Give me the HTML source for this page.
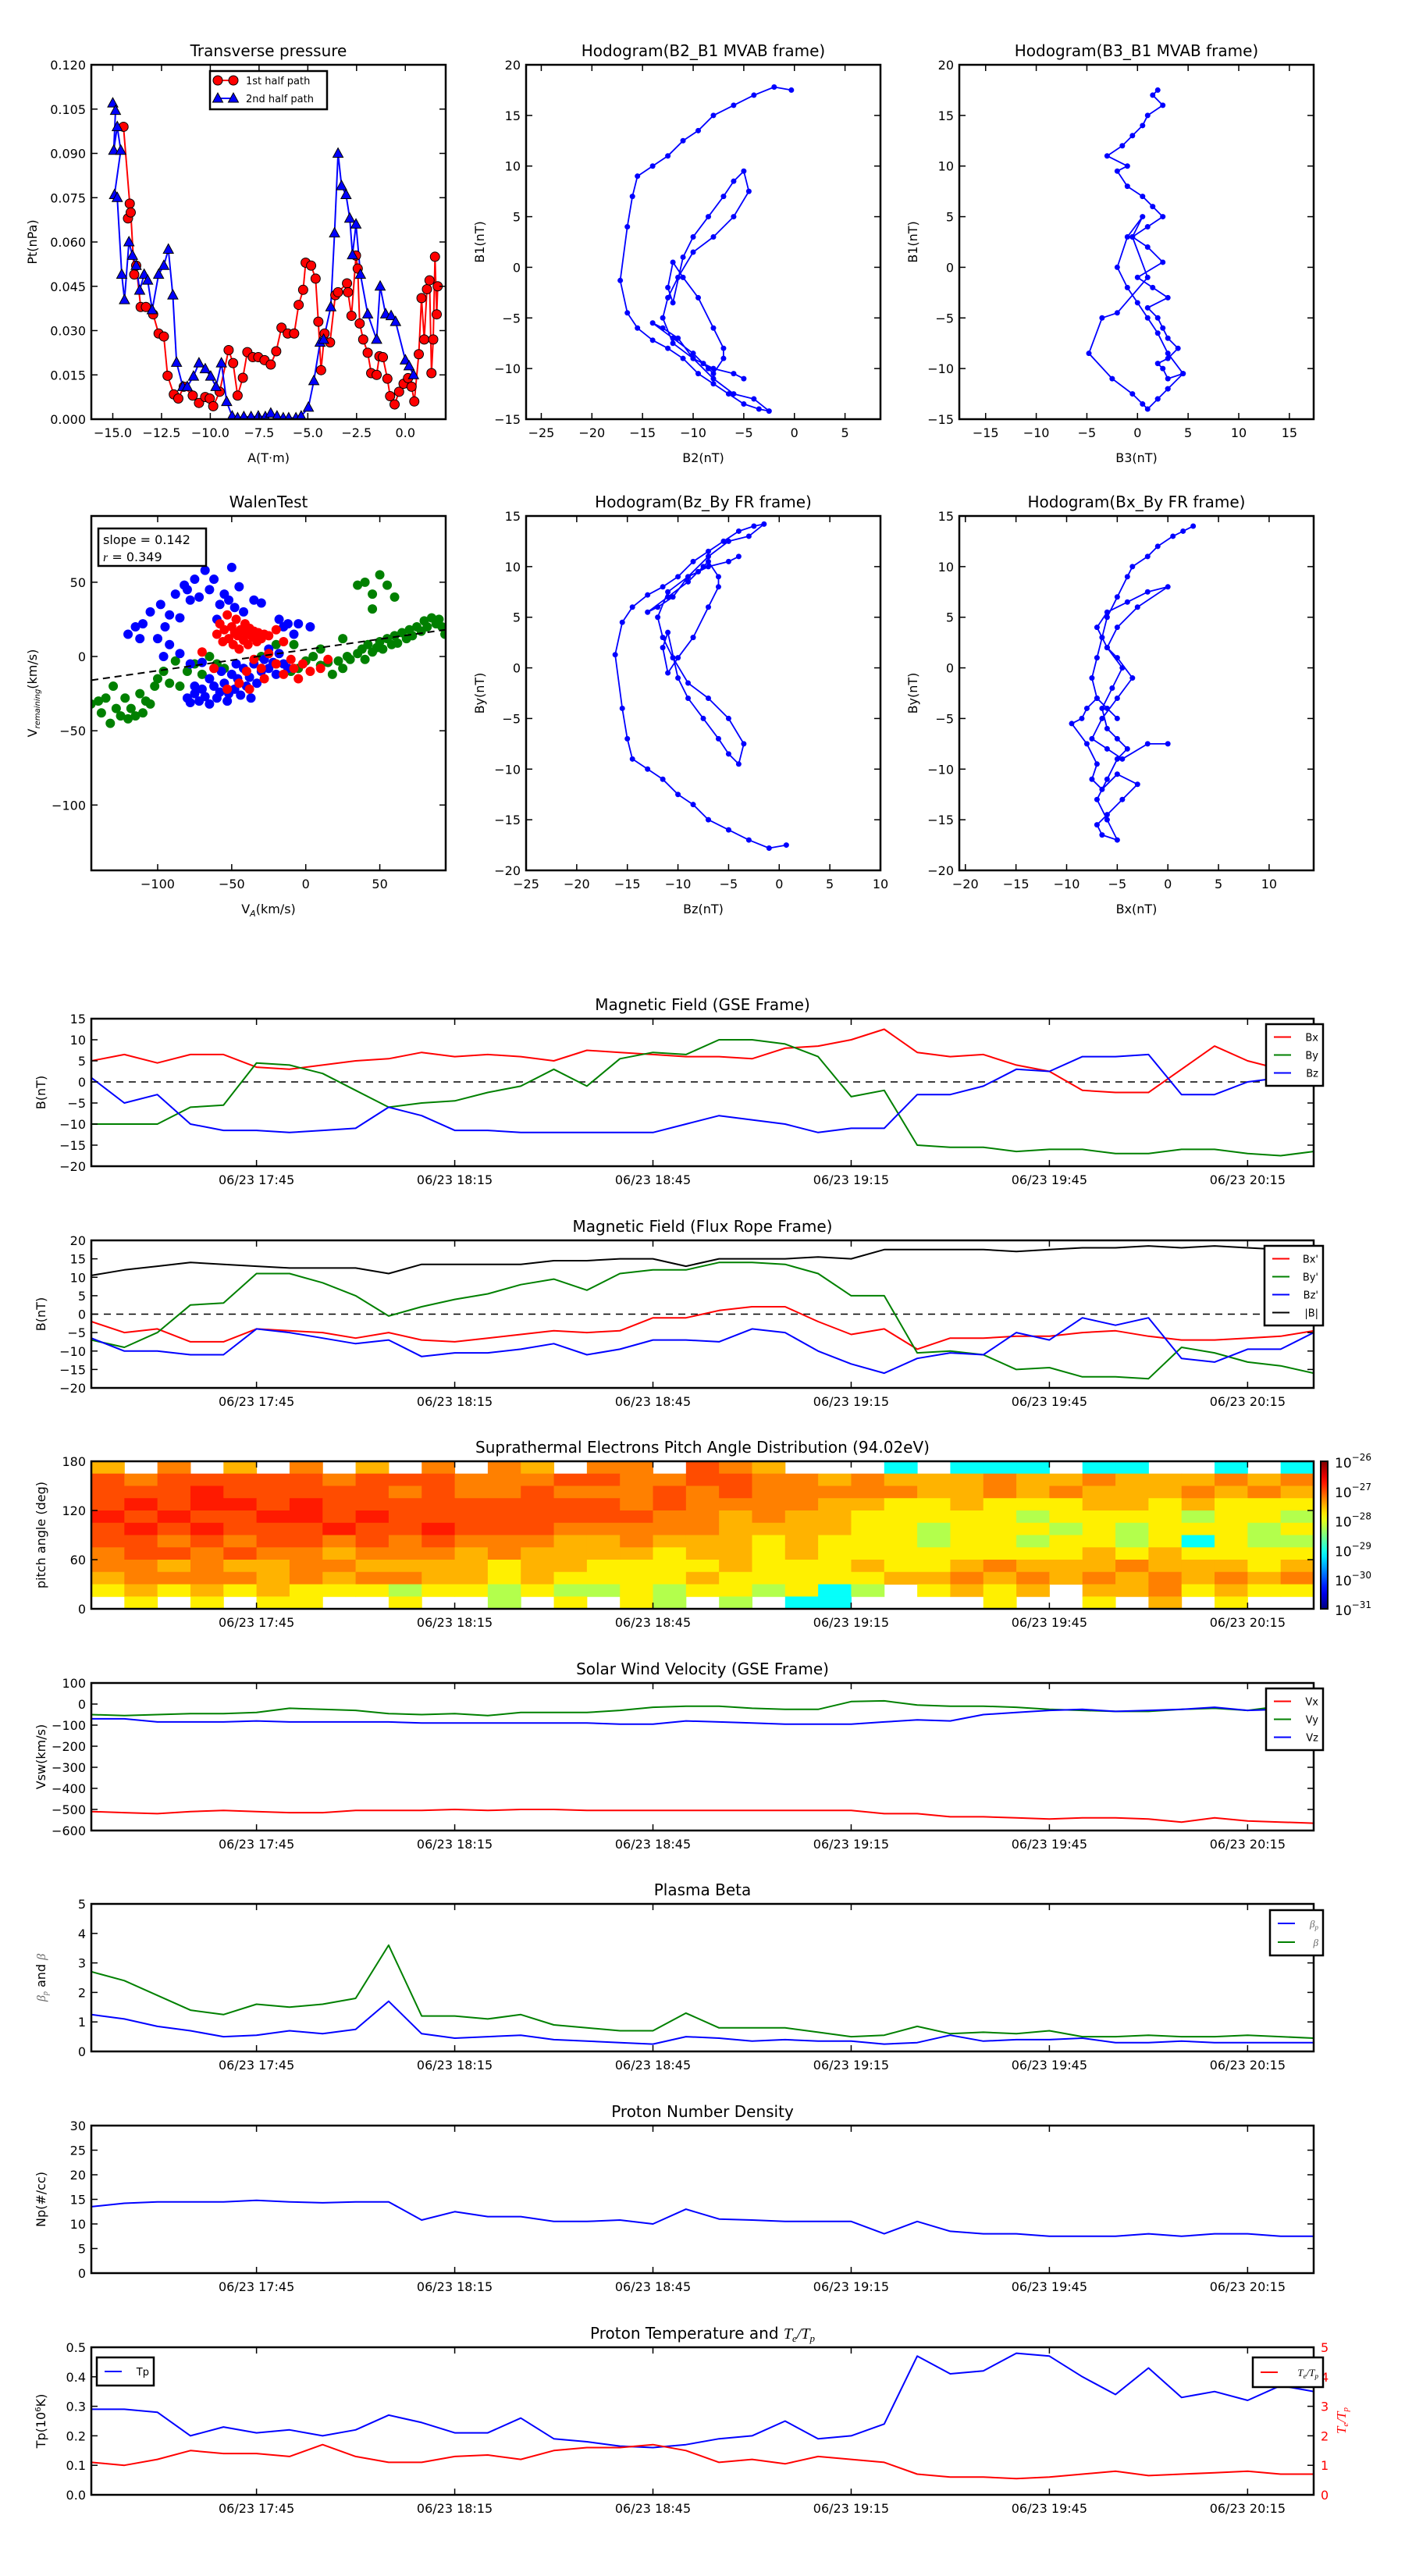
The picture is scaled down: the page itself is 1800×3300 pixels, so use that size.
<!DOCTYPE html>
<html><head><meta charset="utf-8">
<style>
html,body{margin:0;padding:0;background:#fff;}
svg{display:block;font-family:"DejaVu Sans","Liberation Sans",sans-serif;}
</style></head>
<body>
<svg id="fig" xmlns="http://www.w3.org/2000/svg" width="1800" height="3300" viewBox="0 0 1800 3300">
<rect x="0" y="0" width="1800" height="3300" fill="#fff"/>
<defs id="defs"></defs>
</svg>
<script>
// ---------- data ----------
const minutes = [0,5,10,15,20,25,30,35,40,45,50,55,60,65,70,75,80,85,90,95,100,105,110,115,120,125,130,135,140,145,150,155,160,165,170,175,180,185];
const timeTickMinutes = [25,55,85,115,145,175];
const timeTickLabels = ['06/23 17:45','06/23 18:15','06/23 18:45','06/23 19:15','06/23 19:45','06/23 20:15'];

const gseBx = [5,6.5,4.5,6.5,6.5,3.5,3,4,5,5.5,7,6,6.5,6,5,7.5,7,6.5,6,6,5.5,8,8.5,10,12.5,7,6,6.5,4,2.5,-2,-2.5,-2.5,3,8.5,5,3,2.5];
const gseBy = [-10,-10,-10,-6,-5.5,4.5,4,2,-2,-6,-5,-4.5,-2.5,-1,3,-1,5.5,7,6.5,10,10,9,6,-3.5,-2,-15,-15.5,-15.5,-16.5,-16,-16,-17,-17,-16,-16,-17,-17.5,-16.5];
const gseBz = [1,-5,-3,-10,-11.5,-11.5,-12,-11.5,-11,-6,-8,-11.5,-11.5,-12,-12,-12,-12,-12,-10,-8,-9,-10,-12,-11,-11,-3,-3,-1,3,2.5,6,6,6.5,-3,-3,0,1,5];

const frBx = [-2,-5,-4,-7.5,-7.5,-4,-4.5,-5,-6.5,-5,-7,-7.5,-6.5,-5.5,-4.5,-5,-4.5,-1,-1,1,2,2,-2,-5.5,-4,-9.5,-6.5,-6.5,-6,-6,-5,-4.5,-6,-7,-7,-6.5,-6,-4.5];
const frBy = [-7,-9,-5,2.5,3,11,11,8.5,5,-0.5,2,4,5.5,8,9.5,6.5,11,12,12,14,14,13.5,11,5,5,-10.5,-10,-11,-15,-14.5,-17,-17,-17.5,-9,-10.5,-13,-14,-16];
const frBz = [-6.5,-10,-10,-11,-11,-4,-5,-6.5,-8,-7,-11.5,-10.5,-10.5,-9.5,-8,-11,-9.5,-7,-7,-7.5,-4,-5,-10,-13.5,-16,-12,-10.5,-11,-5,-7,-1,-3,-1,-12,-13,-9.5,-9.5,-5];
const frBmag = [10.5,12,13,14,13.5,13,12.5,12.5,12.5,11,13.5,13.5,13.5,13.5,14.5,14.5,15,15,13,15,15,15,15.5,15,17.5,17.5,17.5,17.5,17,17.5,18,18,18.5,18,18.5,18,17.5,17.5];

const pitchRows = [
 "60706 07060 70760 77087 60003 03330 33003 03",
 "87888 88788 87778 87788 77676 66766 76667 67",
 "88898 88887 87787 77878 77777 66767 66676 76",
 "89899 89888 88888 87877 77665 56555 66565 55",
 "98988 99898 88888 88776 76655 55545 55545 54",
 "89898 88988 98887 77776 66655 45554 54555 45",
 "88787 88787 87776 67666 56555 45545 54535 44",
 "78878 77677 76766 66566 56555 55555 65655 55",
 "77676 67766 66566 55556 55565 56766 67666 56",
 "67777 67677 66565 55565 55556 67676 76767 67",
 "56565 65554 55454 45455 45340 56560 66756 55",
 "05050 55005 00405 05404 03300 00500 50605 00"
];
const pitchLevelValues = [null,null,null,-29.1,-28.25,-27.8,-27.5,-27.25,-27.0,-26.75];

const vx = [-510,-515,-520,-510,-505,-510,-515,-515,-505,-505,-505,-500,-505,-500,-500,-505,-505,-505,-505,-505,-505,-505,-505,-505,-520,-520,-535,-535,-540,-545,-540,-540,-545,-560,-540,-555,-560,-565];
const vy = [-50,-55,-50,-45,-45,-40,-20,-25,-30,-45,-50,-45,-55,-40,-40,-40,-30,-15,-10,-10,-20,-25,-25,12,15,-5,-10,-10,-15,-25,-30,-35,-35,-25,-20,-30,-10,-15];
const vz = [-70,-70,-85,-85,-85,-80,-85,-85,-85,-85,-90,-90,-90,-90,-90,-90,-95,-95,-80,-85,-90,-95,-95,-95,-85,-75,-80,-50,-40,-30,-25,-35,-30,-25,-15,-30,-25,-10];

const betaP = [1.25,1.1,0.85,0.7,0.5,0.55,0.7,0.6,0.75,1.7,0.6,0.45,0.5,0.55,0.4,0.35,0.3,0.25,0.5,0.45,0.35,0.4,0.35,0.35,0.25,0.3,0.55,0.35,0.4,0.4,0.45,0.3,0.3,0.35,0.3,0.3,0.3,0.3];
const betaTot = [2.7,2.4,1.9,1.4,1.25,1.6,1.5,1.6,1.8,3.6,1.2,1.2,1.1,1.25,0.9,0.8,0.7,0.7,1.3,0.8,0.8,0.8,0.65,0.5,0.55,0.85,0.6,0.65,0.6,0.7,0.5,0.5,0.55,0.5,0.5,0.55,0.5,0.45];

const density = [13.5,14.2,14.5,14.5,14.5,14.8,14.5,14.3,14.5,14.5,10.8,12.5,11.5,11.5,10.5,10.5,10.8,10,13,11,10.8,10.5,10.5,10.5,8,10.5,8.5,8,8,7.5,7.5,7.5,8,7.5,8,8,7.5,7.5];

const tempP = [0.29,0.29,0.28,0.2,0.23,0.21,0.22,0.2,0.22,0.27,0.245,0.21,0.21,0.26,0.19,0.18,0.165,0.16,0.17,0.19,0.2,0.25,0.19,0.2,0.24,0.47,0.41,0.42,0.48,0.47,0.4,0.34,0.43,0.33,0.35,0.32,0.37,0.35];
const teTp = [1.1,1.0,1.2,1.5,1.4,1.4,1.3,1.7,1.3,1.1,1.1,1.3,1.35,1.2,1.5,1.6,1.6,1.7,1.5,1.1,1.2,1.05,1.3,1.2,1.1,0.7,0.6,0.6,0.55,0.6,0.7,0.8,0.65,0.7,0.75,0.8,0.7,0.7];

// transverse pressure
const half1A = [-14.45,-14.13,-14.22,-14.08,-13.90,-13.80,-13.57,-13.30,-12.93,-12.65,-12.38,-12.19,-11.87,-11.64,-11.36,-10.90,-10.58,-10.26,-10.03,-9.85,-9.52,-9.06,-8.83,-8.60,-8.33,-8.10,-7.82,-7.54,-7.22,-6.90,-6.62,-6.35,-6.03,-5.70,-5.47,-5.24,-5.11,-4.83,-4.60,-4.46,-4.32,-4.14,-3.86,-3.59,-3.45,-2.99,-2.94,-2.76,-2.53,-2.44,-2.34,-2.16,-1.93,-1.75,-1.47,-1.33,-1.15,-0.92,-0.78,-0.55,-0.32,-0.09,0.14,0.32,0.46,0.69,0.83,0.97,1.11,1.24,1.34,1.43,1.52,1.61,1.66];
const half1Pt = [0.099,0.073,0.068,0.070,0.049,0.052,0.038,0.038,0.0355,0.029,0.028,0.0147,0.0084,0.007,0.011,0.008,0.0055,0.0075,0.007,0.0044,0.0093,0.0234,0.019,0.008,0.014,0.0227,0.021,0.021,0.020,0.0185,0.023,0.031,0.029,0.029,0.0387,0.0438,0.053,0.052,0.0476,0.033,0.0166,0.029,0.026,0.042,0.043,0.046,0.043,0.035,0.0554,0.051,0.0324,0.027,0.0225,0.0156,0.015,0.0213,0.021,0.0137,0.0078,0.005,0.0093,0.012,0.0139,0.011,0.006,0.022,0.041,0.027,0.044,0.047,0.0156,0.027,0.055,0.0355,0.045];
const half2A = [-15.0,-14.86,-14.95,-14.77,-14.59,-14.91,-14.77,-14.54,-14.40,-14.17,-13.99,-13.80,-13.62,-13.39,-13.21,-12.98,-12.65,-12.38,-12.15,-11.92,-11.73,-11.41,-11.18,-10.86,-10.58,-10.26,-9.98,-9.71,-9.43,-9.16,-8.88,-8.60,-8.28,-7.91,-7.54,-7.18,-6.90,-6.58,-6.26,-5.98,-5.61,-5.34,-4.97,-4.69,-4.37,-4.19,-3.82,-3.63,-3.45,-3.27,-3.04,-2.85,-2.71,-2.53,-2.30,-1.93,-1.47,-1.29,-1.01,-0.73,-0.50,0.00,0.19,0.42];
const half2Pt = [0.107,0.1045,0.091,0.099,0.091,0.076,0.075,0.049,0.0404,0.060,0.0554,0.052,0.0436,0.049,0.047,0.037,0.049,0.052,0.0575,0.042,0.0192,0.011,0.011,0.0145,0.019,0.017,0.0145,0.011,0.019,0.0059,0.001,0.0004,0.0008,0.0008,0.001,0.0008,0.002,0.001,0.0004,0.0004,0.0004,0.001,0.004,0.013,0.026,0.027,0.038,0.063,0.090,0.079,0.076,0.068,0.0556,0.066,0.049,0.0356,0.027,0.045,0.0356,0.035,0.033,0.020,0.018,0.015];

// hodograms
const mvabB2 = [-0.3,-2,-4,-6,-8,-9.5,-11,-12.5,-14,-15.5,-16,-16.5,-17.2,-16.5,-15.5,-14,-12.5,-11,-9.5,-8,-6.5,-5,-3.5,-2.5,-4,-6,-8,-10,-11.5,-13,-14,-12,-10,-9,-8.5,-8,-7,-7,-8,-9.5,-11,-12,-12.5,-12,-11,-10,-8.5,-7,-6,-5,-4.5,-6,-8,-10,-11.5,-12.5,-13,-12,-10,-8,-6,-5];
const mvabB1 = [17.5,17.8,17,16,15,13.5,12.5,11,10,9,7,4,-1.3,-4.5,-6,-7.2,-8,-9,-10.5,-11.5,-12.5,-13.5,-14,-14.2,-13,-12.5,-11,-9,-7,-6,-5.5,-7,-8.5,-9.5,-10,-10.5,-9,-8,-6,-3,-1,0.5,-2,-3.5,1,3,5,7,8.5,9.5,7.5,5,3,1.5,-1,-3,-5,-7.5,-9,-10,-10.5,-11];
const mvabB3 = [2,1.5,2.5,1,0.5,-0.5,-1.5,-3,-1,-2,-1,0.5,1.5,2.5,1,-0.5,1,2.5,0,1.5,3,1,2,2.5,3,4,3,2,2.5,3,4.5,3,2,4.5,3,2,1,0,-1,-2,-1,0.5,-0.5,1,-2,-3.5,-4.8,-2.5,-0.5,0.5,1,2,3];
const mvabB1b = [17.5,17,16,15,14,13,12,11,10,9.5,8,7,6,5,4,3,2,0.5,-1,-2,-3,-4,-5,-6,-7,-8,-9,-9.5,-10,-11,-10.5,-12,-13,-10.5,-8.5,-6.5,-5,-3.5,-2,0,3,5,3,-1,-4.5,-5,-8.5,-11,-12.5,-13.5,-14,-13,-12];
const frHodoBz = [0.7,-1,-3,-5,-7,-8.5,-10,-11.5,-13,-14.5,-15,-15.5,-16.2,-15.5,-14.5,-13,-11.5,-10,-8.5,-7,-5.5,-4,-2.5,-1.5,-3,-5,-7,-9,-10.5,-12,-13,-11,-9,-8,-7.5,-7,-6,-6,-7,-8.5,-10,-11,-11.5,-11,-10,-9,-7.5,-6,-5,-4,-3.5,-5,-7,-9,-10.5,-11.5,-12,-11,-9,-7,-5,-4];
const frHodoBy = [-17.5,-17.8,-17,-16,-15,-13.5,-12.5,-11,-10,-9,-7,-4,1.3,4.5,6,7.2,8,9,10.5,11.5,12.5,13.5,14,14.2,13,12.5,11,9,7,6,5.5,7,8.5,9.5,10,10.5,9,8,6,3,1,-0.5,2,3.5,-1,-3,-5,-7,-8.5,-9.5,-7.5,-5,-3,-1.5,1,3,5,7.5,9,10,10.5,11];
const frHodoBx = [2.5,1.5,0.5,-1,-2,-3.5,-4,-5,-6,-6.5,-7,-7.5,-7,-6,-5,-7,-8,-8.5,-9.5,-8,-7,-7.5,-6.5,-5,-3,-4.5,-6,-7,-6.5,-5,-6,-7,-6,-5,-4,-5,-6,-6.5,-5.5,-4.5,-6,-7,-6,-4,-2,0,-3,-5,-6,-5,-3.5,-5,-6.5,-7.5,-6,-4.5,-2,0];
const frHodoBy2 = [14,13.5,13,12,11,10,9,7,5,3,1,-1,-3,-4,-5,-3,-4,-5,-5.5,-7.5,-9.5,-11,-12,-10.5,-11.5,-13,-14.5,-15.5,-16.5,-17,-15,-13,-11,-9,-8,-7,-6,-4,-2,0,2,4,5.5,6.5,7.5,8,6,4,2,1,-1,-3,-5,-7,-8,-9,-7.5,-7.5];

// Walen test scatter
const walenBlueVA = [-120,-115,-110,-112,-105,-98,-95,-92,-88,-85,-82,-80,-78,-75,-72,-68,-65,-62,-58,-55,-52,-50,-48,-45,-42,-35,-30,-18,-12,-5,3,-8,-100,-92,-85,-78,-70,-25,-15,-60,-96,-80,-78,-75,-72,-70,-68,-65,-62,-60,-58,-55,-53,-50,-48,-46,-44,-42,-40,-38,-35,-33,-30,-28,-25,-22,-20,-18,-15,-12,-65,-57,-52,-47,-37,-75];
const walenBlueVR = [15,20,22,12,30,35,20,28,42,26,48,45,38,52,40,58,45,52,35,42,38,60,33,47,30,38,36,25,22,22,20,15,12,8,2,-5,-4,5,20,25,0,-28,-31,-25,-30,-22,-27,-32,-20,-28,-24,-18,-30,-12,-22,-15,-26,-8,-20,-14,-5,-18,-10,-2,-8,-4,-12,2,-5,-8,-15,-10,-25,-5,-28,-20];
const walenRedVA = [-60,-58,-56,-55,-53,-52,-50,-49,-48,-47,-46,-45,-44,-42,-41,-40,-39,-38,-36,-35,-33,-32,-30,-28,-25,-20,-15,-45,-40,-35,-30,-25,-20,-15,-10,-8,-5,-2,3,10,15,-70,-62,-53,-38,-28];
const walenRedVR = [15,22,10,18,28,12,20,8,16,25,14,5,18,11,22,15,8,19,13,17,10,16,12,15,14,18,10,-18,-10,-2,-8,2,-5,-12,-2,-8,-15,-5,-10,-8,-2,3,-8,-22,-22,-15];
const walenGreenVA = [-145,-140,-138,-135,-132,-130,-128,-125,-122,-120,-118,-115,-112,-110,-108,-105,-102,-100,-96,-92,-88,-85,-80,-75,-70,-65,-60,-55,-40,-30,-20,-10,-5,0,5,10,15,18,22,25,28,30,35,38,40,42,45,48,50,52,55,58,60,62,65,68,70,72,75,78,80,82,85,88,90,92,94,35,40,45,50,55,45,60,-20,10,-8,25];
const walenGreenVR = [-32,-30,-38,-28,-45,-20,-35,-40,-28,-42,-35,-40,-25,-38,-30,-32,-20,-15,-10,-18,-3,-20,-10,-5,-12,0,-5,-8,-10,0,-5,-10,-8,-3,0,-6,-4,-12,-3,-8,0,-2,2,5,-2,8,3,6,10,5,12,8,14,9,16,12,18,14,20,17,24,20,26,22,25,20,15,48,50,42,55,48,32,40,8,5,8,12];
const walenSlope = 0.142;
const walenIntercept = 4.6;

// ---------- helpers ----------
const NS = 'http://www.w3.org/2000/svg';
const svg = document.getElementById('fig');
const defs = document.getElementById('defs');
function mk(tag, attrs, parent) {
  const e = document.createElementNS(NS, tag);
  for (const k in attrs) e.setAttribute(k, attrs[k]);
  (parent || svg).appendChild(e);
  return e;
}
function txt(str, attrs, parent) {
  const e = mk('text', attrs, parent);
  e.textContent = str;
  return e;
}
function jet(t) {
  t = Math.max(0, Math.min(1, t));
  const c = v => Math.round(255 * Math.max(0, Math.min(1, v)));
  return `rgb(${c(1.5 - Math.abs(4*t - 3))},${c(1.5 - Math.abs(4*t - 2))},${c(1.5 - Math.abs(4*t - 1))})`;
}
let clipCount = 0;
function makeAxis(cfg) {
  const g = mk('g', {});
  
  
  clipCount++;
  const cp = mk('clipPath', {id: 'clip' + clipCount}, defs);
  mk('rect', {x: cfg.x, y: cfg.y, width: cfg.w, height: cfg.h}, cp);
  const plot = mk('g', {'clip-path': `url(#clip${clipCount})`}, g);
  
  
  const ax = Object.assign({}, cfg);
  ax.g = g; ax.plot = plot;
  ax.sx = v => cfg.x + (v - cfg.xmin) / (cfg.xmax - cfg.xmin) * cfg.w;
  ax.sy = v => cfg.y + cfg.h - (v - cfg.ymin) / (cfg.ymax - cfg.ymin) * cfg.h;
  return ax;
}
function finishAxis(ax, o) {
  const g = ax.g;
  const bot = ax.y + ax.h, right = ax.x + ax.w;
  (o.xticks || []).forEach((v, i) => {
    const X = ax.sx(v);
    const t1 = mk('line', {x1: X, y1: bot, x2: X, y2: bot - 8, stroke: '#000', 'stroke-width': 1.5}, g);
    
    
    const t2 = mk('line', {x1: X, y1: ax.y, x2: X, y2: ax.y + 8, stroke: '#000', 'stroke-width': 1.5}, g);
    
    
    const lb = txt(o.xlabels[i], {x: X, y: bot + (o.xlabOff || 23), 'text-anchor': 'middle', 'font-size': o.tickFont || 16}, g);
    
    
  });
  (o.yticks || []).forEach((v, i) => {
    const Y = ax.sy(v);
    const t1 = mk('line', {x1: ax.x, y1: Y, x2: ax.x + 8, y2: Y, stroke: '#000', 'stroke-width': 1.5}, g);
    
    
    const t2 = mk('line', {x1: right, y1: Y, x2: right - 8, y2: Y, stroke: '#000', 'stroke-width': 1.5}, g);
    
    
    const lb = txt(o.ylabels[i], {x: ax.x - 7, y: Y + 6, 'text-anchor': 'end', 'font-size': o.tickFont || 16}, g);
    
    
  });
  const fr = mk('rect', {x: ax.x, y: ax.y, width: ax.w, height: ax.h, fill: 'none', stroke: '#000', 'stroke-width': 2.5}, g);
  
  
  if (o.title) {
    const t = txt('', {x: ax.x + ax.w / 2, y: ax.y - 11, 'text-anchor': 'middle', 'font-size': 20}, g);
    t.innerHTML = o.title;
    
    
  }
  if (o.xlabel) {
    const t = txt('', {x: ax.x + ax.w / 2, y: bot + 55, 'text-anchor': 'middle', 'font-size': 16}, g);
    t.innerHTML = o.xlabel;
    
    
  }
  if (o.ylabel) {
    const cx = o.ylabelX, cy = ax.y + ax.h / 2;
    const t = txt('', {x: cx, y: cy, 'text-anchor': 'middle', 'font-size': 16, transform: `rotate(-90 ${cx} ${cy})`, dy: 6, fill: o.ylabelColor || '#000'}, g);
    t.innerHTML = o.ylabel;
    
    
  }
}
function drawLine(ax, xs, ys, color, name, width) {
  const n = Math.min(xs.length, ys.length);
  let d = '';
  for (let i = 0; i < n; i++) d += (i ? 'L' : 'M') + ax.sx(xs[i]).toFixed(1) + ',' + ax.sy(ys[i]).toFixed(1);
  const p = mk('path', {d: d, fill: 'none', stroke: color, 'stroke-width': width || 2, 'stroke-linejoin': 'round'}, ax.plot);
  
  
  return p;
}
function drawDots(ax, xs, ys, color, name, r, stroke) {
  const n = Math.min(xs.length, ys.length);
  for (let i = 0; i < n; i++) {
    const c = mk('circle', {cx: ax.sx(xs[i]), cy: ax.sy(ys[i]), r: r, fill: color, stroke: stroke || 'none', 'stroke-width': 1}, ax.plot);
    
    
  }
}
function drawTriangles(ax, xs, ys, color, name) {
  const n = Math.min(xs.length, ys.length);
  for (let i = 0; i < n; i++) {
    const X = ax.sx(xs[i]), Y = ax.sy(ys[i]);
    const t = mk('polygon', {points: `${X},${Y-7} ${X-6.5},${Y+5} ${X+6.5},${Y+5}`, fill: color, stroke: '#000', 'stroke-width': 1}, ax.plot);
    
    
  }
}
function zeroLine(ax) {
  const l = mk('line', {x1: ax.x, y1: ax.sy(0), x2: ax.x + ax.w, y2: ax.sy(0), stroke: '#000', 'stroke-width': 1.5, 'stroke-dasharray': '9,7'}, ax.plot);
  
  
}
function legend(x, y, w, entries, parent, lineH) {
  lineH = lineH || 23;
  const g = mk('g', {}, parent);
  
  
  const box = mk('rect', {x: x, y: y, width: w, height: entries.length * lineH + 10, fill: '#fff', stroke: '#000', 'stroke-width': 2.5}, g);
  
  
  entries.forEach((e, i) => {
    const yy = y + 5 + lineH * (i + 0.5);
    const l = mk('line', {x1: x + 10, y1: yy, x2: x + 32, y2: yy, stroke: e.color, 'stroke-width': 2}, g);
    
    
    const t = txt('', {x: x + w - 6, y: yy + 5, 'text-anchor': 'end', 'font-size': 13}, g);
    t.innerHTML = e.label;
    
    
  });
}
function range(a, b, s) { const r = []; for (let v = a; v <= b + 1e-9; v += s) r.push(+v.toFixed(6)); return r; }
const minus = v => String(v).replace('-', '\u2212');

// ---------- top row ----------
const axP = makeAxis({name: 'transverse-pressure-chart', x: 117, y: 83, w: 454, h: 454, xmin: -16.1, xmax: 2.07, ymin: 0, ymax: 0.12});
drawLine(axP, half1A, half1Pt, '#ff0000', 'first-half-path-line', 2);
drawLine(axP, half2A, half2Pt, '#0000ff', 'second-half-path-line', 2);
drawDots(axP, half1A, half1Pt, '#ff0000', 'first-half-point', 6, '#000');
drawTriangles(axP, half2A, half2Pt, '#0000ff', 'second-half-point');
const pxt = [-15, -12.5, -10, -7.5, -5, -2.5, 0];
const pyt = [0, 0.015, 0.03, 0.045, 0.06, 0.075, 0.09, 0.105, 0.12];
finishAxis(axP, {xticks: pxt, xlabels: pxt.map(v => minus(v.toFixed(1))), yticks: pyt, ylabels: pyt.map(v => v.toFixed(3)), title: 'Transverse pressure', xlabel: 'A(T\u00b7m)', ylabel: 'Pt(nPa)', ylabelX: 41});
{
  const g = mk('g', {}, axP.g);
  
  
  const b = mk('rect', {x: 269, y: 91, width: 150, height: 49, fill: '#fff', stroke: '#000', 'stroke-width': 2.5}, g);
  
  
  const l1 = mk('line', {x1: 279, y1: 103, x2: 299, y2: 103, stroke: '#f00', 'stroke-width': 2}, g);
  
  
  [279, 299].forEach(cx => {
    const c = mk('circle', {cx: cx, cy: 103, r: 6, fill: '#f00', stroke: '#000'}, g);
    
    
  });
  const t1 = txt('1st half path', {x: 315, y: 108, 'font-size': 13}, g);
  
  
  const l2 = mk('line', {x1: 279, y1: 126, x2: 299, y2: 126, stroke: '#00f', 'stroke-width': 2}, g);
  
  
  [279, 299].forEach(cx => {
    const p = mk('polygon', {points: `${cx},${119} ${cx-6.5},${131} ${cx+6.5},${131}`, fill: '#00f', stroke: '#000'}, g);
    
    
  });
  const t2 = txt('2nd half path', {x: 315, y: 131, 'font-size': 13}, g);
  
  
}

function hodo(cfg, xs, ys, xt, yt, title, xlabel, ylabel) {
  const ax = makeAxis(cfg);
  drawLine(ax, xs, ys, '#0000ff', cfg.name + '-path', 1.8);
  drawDots(ax, xs, ys, '#0000ff', cfg.name + '-point', 3.5);
  finishAxis(ax, {xticks: xt, xlabels: xt.map(minus), yticks: yt, ylabels: yt.map(minus), title: title, xlabel: xlabel, ylabel: ylabel, ylabelX: cfg.x - 60});
  return ax;
}
hodo({name: 'hodogram-b2-b1', x: 674, y: 83, w: 454, h: 454, xmin: -26.5, xmax: 8.5, ymin: -15, ymax: 20}, mvabB2, mvabB1, range(-25, 5, 5), range(-15, 20, 5), 'Hodogram(B2_B1 MVAB frame)', 'B2(nT)', 'B1(nT)');
hodo({name: 'hodogram-b3-b1', x: 1229, y: 83, w: 454, h: 454, xmin: -17.6, xmax: 17.4, ymin: -15, ymax: 20}, mvabB3, mvabB1b, range(-15, 15, 5), range(-15, 20, 5), 'Hodogram(B3_B1 MVAB frame)', 'B3(nT)', 'B1(nT)');
hodo({name: 'hodogram-bz-by', x: 674, y: 661, w: 454, h: 454, xmin: -25, xmax: 10, ymin: -20, ymax: 15}, frHodoBz, frHodoBy, range(-25, 10, 5), range(-20, 15, 5), 'Hodogram(Bz_By FR frame)', 'Bz(nT)', 'By(nT)');
hodo({name: 'hodogram-bx-by', x: 1229, y: 661, w: 454, h: 454, xmin: -20.6, xmax: 14.4, ymin: -20, ymax: 15}, frHodoBx, frHodoBy2, range(-20, 10, 5), range(-20, 15, 5), 'Hodogram(Bx_By FR frame)', 'Bx(nT)', 'By(nT)');

// Walen
const axW = makeAxis({name: 'walen-test-chart', x: 117, y: 661, w: 454, h: 454, xmin: -144.8, xmax: 94.5, ymin: -144, ymax: 94.6});
drawDots(axW, walenGreenVA, walenGreenVR, '#008000', 'walen-green-point', 6);
drawDots(axW, walenBlueVA, walenBlueVR, '#0000ff', 'walen-blue-point', 6);
drawDots(axW, walenRedVA, walenRedVR, '#ff0000', 'walen-red-point', 6);
{
  const fitX = [axW.xmin, axW.xmax];
  const fl = mk('line', {x1: axW.sx(fitX[0]), y1: axW.sy(walenSlope * fitX[0] + walenIntercept), x2: axW.sx(fitX[1]), y2: axW.sy(walenSlope * fitX[1] + walenIntercept), stroke: '#000', 'stroke-width': 2, 'stroke-dasharray': '9,6'}, axW.plot);
  
  
}
finishAxis(axW, {xticks: [-100, -50, 0, 50], xlabels: ['\u2212100', '\u221250', '0', '50'], yticks: [-100, -50, 0, 50], ylabels: ['\u2212100', '\u221250', '0', '50'], title: 'WalenTest', xlabel: 'V<tspan font-size="11" font-style="italic" dy="4">A</tspan><tspan dy="-4">(km/s)</tspan>', ylabel: 'V<tspan font-size="10" font-style="italic" dy="4">remaining</tspan><tspan dy="-4">(km/s)</tspan>', ylabelX: 41});
{
  const b = mk('rect', {x: 126, y: 677, width: 138, height: 48, fill: '#fff', stroke: '#000', 'stroke-width': 2.5}, axW.g);
  
  
  const t1 = txt('slope = 0.142', {x: 132, y: 697, 'font-size': 16}, axW.g);
  
  
  const t2 = txt('', {x: 132, y: 719, 'font-size': 16}, axW.g);
  t2.innerHTML = '<tspan font-style="italic" font-family="Liberation Serif">r</tspan> = 0.349';
  
  
}

// ---------- time series panels ----------
const TX = 117, TW = 1566;
function timeAxis(name, top, ymin, ymax) {
  return makeAxis({name: name, x: TX, y: top, w: TW, h: 189, xmin: 0, xmax: 185, ymin: ymin, ymax: ymax});
}
function finishTime(ax, yt, yl, title, ylabel) {
  finishAxis(ax, {xticks: timeTickMinutes, xlabels: timeTickLabels, xlabOff: 23, yticks: yt, ylabels: yl, title: title, ylabel: ylabel, ylabelX: 52, tickFont: 16});
}

// GSE field
const ax1 = timeAxis('magnetic-field-gse-chart', 1305, -20, 15);
zeroLine(ax1);
drawLine(ax1, minutes, gseBx, '#ff0000', 'bx-line');
drawLine(ax1, minutes, gseBy, '#008000', 'by-line');
drawLine(ax1, minutes, gseBz, '#0000ff', 'bz-line');
finishTime(ax1, range(-20, 15, 5), range(-20, 15, 5).map(minus), 'Magnetic Field (GSE Frame)', 'B(nT)');
legend(1622, 1312, 73, [{color: '#f00', label: 'Bx'}, {color: '#008000', label: 'By'}, {color: '#00f', label: 'Bz'}], ax1.g);

// FR field
const ax2 = timeAxis('magnetic-field-flux-rope-chart', 1589, -20, 20);
zeroLine(ax2);
drawLine(ax2, minutes, frBx, '#ff0000', 'bx-prime-line');
drawLine(ax2, minutes, frBy, '#008000', 'by-prime-line');
drawLine(ax2, minutes, frBz, '#0000ff', 'bz-prime-line');
drawLine(ax2, minutes, frBmag, '#000000', 'b-magnitude-line');
finishTime(ax2, range(-20, 20, 5), range(-20, 20, 5).map(minus), 'Magnetic Field (Flux Rope Frame)', 'B(nT)');
legend(1620, 1596, 75, [{color: '#f00', label: "Bx'"}, {color: '#008000', label: "By'"}, {color: '#00f', label: "Bz'"}, {color: '#000', label: '|B|'}], ax2.g);

// PAD heatmap
const ax3 = timeAxis('pitch-angle-distribution-chart', 1872, 0, 180);
{
  const rows = pitchRows.map(r => r.replace(/ /g, ''));
  const nRows = rows.length;
  rows.forEach((row, ri) => {
    const nCols = row.length;
    const dT = 185 / nCols, dA = 180 / nRows;
    for (let ci = 0; ci < nCols; ci++) {
      const lv = pitchLevelValues[+row[ci]];
      if (lv === null) continue;
      const a1 = 180 - ri * dA, a0 = a1 - dA;
      const x0 = ax3.sx(ci * dT), x1 = ax3.sx((ci + 1) * dT);
      const cell = mk('rect', {x: x0, y: ax3.sy(a1), width: x1 - x0 + 0.5, height: ax3.sy(a0) - ax3.sy(a1) + 0.5, fill: jet((lv + 31) / 5)}, ax3.plot);
      
      
    }
  });
}
finishTime(ax3, [0, 60, 120, 180], ['0', '60', '120', '180'], 'Suprathermal Electrons Pitch Angle Distribution (94.02eV)', 'pitch angle (deg)');
{
  const grad = mk('linearGradient', {id: 'jetgrad', x1: 0, y1: 1, x2: 0, y2: 0}, defs);
  for (let i = 0; i <= 20; i++) mk('stop', {offset: i / 20, 'stop-color': jet(i / 20)}, grad);
  const cb = mk('g', {});
  
  
  const r = mk('rect', {x: 1692, y: 1872, width: 9, height: 189, fill: 'url(#jetgrad)', stroke: '#000', 'stroke-width': 2}, cb);
  
  
  const cbExps = [-26, -27, -28, -29, -30, -31];
  cbExps.forEach((e, i) => {
    const Y = 1872 + (-26 - e) / 5 * 189;
    const t = txt('', {x: 1710, y: Y + 8, 'font-size': 17}, cb);
    t.innerHTML = '10<tspan font-size="12" dy="-9">\u2212' + (-e) + '</tspan>';
    
    
  });
}

// velocity
const ax4 = timeAxis('solar-wind-velocity-chart', 2156, -600, 100);
drawLine(ax4, minutes, vx, '#ff0000', 'vx-line');
drawLine(ax4, minutes, vy, '#008000', 'vy-line');
drawLine(ax4, minutes, vz, '#0000ff', 'vz-line');
finishTime(ax4, range(-600, 100, 100), range(-600, 100, 100).map(minus), 'Solar Wind Velocity (GSE Frame)', 'Vsw(km/s)');
legend(1622, 2163, 73, [{color: '#f00', label: 'Vx'}, {color: '#008000', label: 'Vy'}, {color: '#00f', label: 'Vz'}], ax4.g);

// beta
const ax5 = timeAxis('plasma-beta-chart', 2439, 0, 5);
drawLine(ax5, minutes, betaP, '#0000ff', 'beta-p-line');
drawLine(ax5, minutes, betaTot, '#008000', 'beta-line');
finishTime(ax5, range(0, 5, 1), range(0, 5, 1).map(String), 'Plasma Beta', '<tspan font-style="italic" font-family="Liberation Serif" fill="#666">\u03b2<tspan font-size="10" dy="3">p</tspan></tspan><tspan dy="-3"> and </tspan><tspan font-style="italic" font-family="Liberation Serif" fill="#666">\u03b2</tspan>');
legend(1627, 2447, 68, [{color: '#00f', label: '<tspan font-style="italic" font-family="Liberation Serif" fill="#666">\u03b2<tspan font-size="9" dy="3">p</tspan></tspan>'}, {color: '#008000', label: '<tspan font-style="italic" font-family="Liberation Serif" fill="#666">\u03b2</tspan>'}], ax5.g, 24);

// density
const ax6 = timeAxis('proton-density-chart', 2723, 0, 30);
drawLine(ax6, minutes, density, '#0000ff', 'density-line');
finishTime(ax6, range(0, 30, 5), range(0, 30, 5).map(String), 'Proton Number Density', 'Np(#/cc)');

// temperature
const ax7 = timeAxis('proton-temperature-chart', 3007, 0, 0.5);
const ax7r = {sx: ax7.sx, sy: v => ax7.y + ax7.h - v / 5 * ax7.h, plot: ax7.plot};
drawLine(ax7, minutes, tempP, '#0000ff', 'tp-line');
drawLine(ax7r, minutes, teTp, '#ff0000', 'te-tp-ratio-line');
const tyt = [0, 0.1, 0.2, 0.3, 0.4, 0.5];
finishTime(ax7, tyt, tyt.map(v => v.toFixed(1)), 'Proton Temperature and <tspan font-style="italic" font-family="Liberation Serif">T<tspan font-size="13" dy="4">e</tspan><tspan dy="-4">/T</tspan><tspan font-size="13" dy="4">p</tspan></tspan>', 'Tp(10<tspan font-size="10" dy="-6">6</tspan><tspan dy="6">K)</tspan>');
{
  const rg = mk('g', {}, ax7.g);
  
  
  const rt = [0, 1, 2, 3, 4, 5];
  rt.forEach(v => {
    const Y = ax7r.sy(v);
    const t = txt(String(v), {x: 1692, y: Y + 6, 'font-size': 16, fill: '#f00'}, rg);
    
    
  });
  const t = txt('', {x: 1724, y: 3101, 'font-size': 17, fill: '#f00', 'text-anchor': 'middle', transform: 'rotate(-90 1724 3101)', 'font-family': 'Liberation Serif', 'font-style': 'italic'}, rg);
  t.innerHTML = 'T<tspan font-size="11" dy="3">e</tspan><tspan dy="-3">/T</tspan><tspan font-size="11" dy="3">p</tspan>';
  
  
}
legend(124, 3020, 73, [{color: '#00f', label: 'Tp'}], ax7.g, 26);
legend(1605, 3020, 90, [{color: '#f00', label: '<tspan font-style="italic" font-family="Liberation Serif">T<tspan font-size="9" dy="3">e</tspan><tspan dy="-3">/T</tspan><tspan font-size="9" dy="3">p</tspan></tspan>'}], ax7.g, 28);
</script>
</body></html>
